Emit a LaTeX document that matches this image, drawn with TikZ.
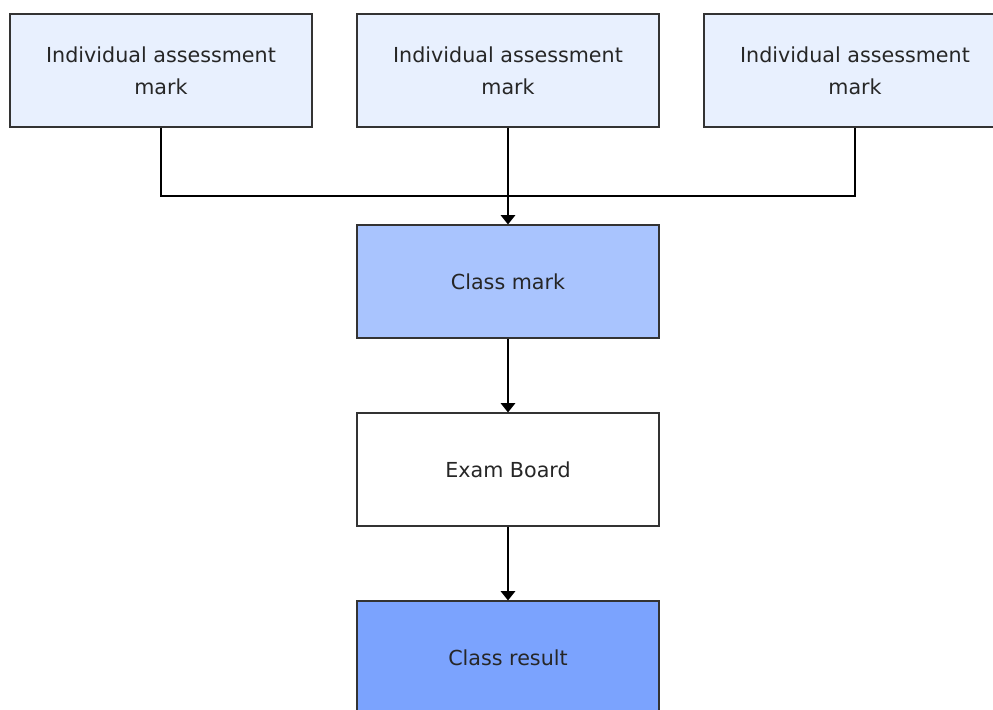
\documentclass[tikz,border=0pt]{standalone}
\usepackage{fontspec}
\setmainfont{DejaVu Sans}
\usetikzlibrary{arrows.meta}

\definecolor{paleblue}{HTML}{E8F0FE}
\definecolor{midblue}{HTML}{A9C4FE}
\definecolor{deepblue}{HTML}{7BA3FE}
\definecolor{edgegray}{HTML}{333333}

\tikzset{
    markbox/.style={draw=edgegray, line width=0.9pt, minimum width=226.5pt,
        minimum height=84.75pt, inner sep=0pt, align=center, text=black!85,
        font=\fontsize{15.5}{24}\selectfont},
    flow/.style={draw=black, line width=0.9pt},
    flowarrow/.style={flow, -{Triangle[width=11pt,length=7pt]}}
}

\begin{document}
\begin{tikzpicture}[x=0.75pt, y=-0.75pt]
    \useasboundingbox (0,0) rectangle (993,710);

    % --- Individual assessment marks (top row) ---
    \node[markbox, fill=paleblue] (ia1) at (161,70.5) {Individual assessment\\mark};
    \node[markbox, fill=paleblue] (ia2) at (508,70.5) {Individual assessment\\mark};
    \node[markbox, fill=paleblue] (ia3) at (855,70.5) {Individual assessment\\mark};

    % --- Chain down the middle ---
    \node[markbox, fill=midblue]  (cm) at (508,281.5) {Class mark};
    \node[markbox, fill=white]    (eb) at (508,469.5) {Exam Board};
    \node[markbox, fill=deepblue] (cr) at (508,657.5) {Class result};

    % Joining line under the top row
    \coordinate (join) at (508,196);
    \draw[flow] (ia1.south) |- (join) -| (ia3.south);
    \draw[flowarrow] (ia2.south) -- (cm.north);

    % Edges
    \draw[flowarrow] (cm.south) -- (eb.north);
    \draw[flowarrow] (eb.south) -- (cr.north);
\end{tikzpicture}
\end{document}
